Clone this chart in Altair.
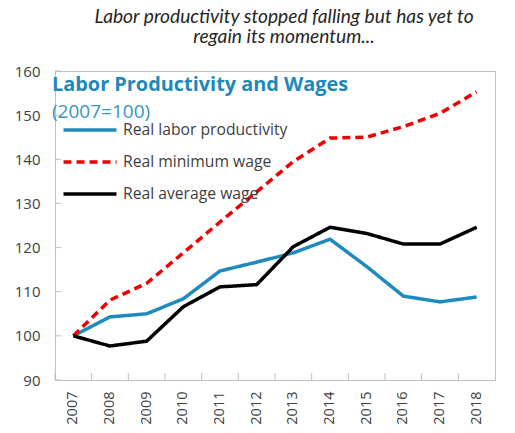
import altair as alt
import pandas as pd

years = [2007, 2008, 2009, 2010, 2011, 2012, 2013, 2014, 2015, 2016, 2017, 2018]
productivity = [100, 104.3, 105.0, 108.4, 114.7, 116.7, 118.8, 121.9, 115.7, 109.0, 107.7, 108.8]
min_wage = [100, 108.1, 111.9, 118.8, 125.8, 132.6, 139.5, 144.8, 145.0, 147.4, 150.4, 155.3]
avg_wage = [100, 97.7, 98.8, 106.6, 111.1, 111.6, 120.2, 124.6, 123.2, 120.8, 120.8, 124.6]

series_names = ["Real labor productivity", "Real minimum wage", "Real average wage"]
series_colors = ["#1f8bbd", "#ee0000", "#000000"]
series_dashes = [[1, 0], [8, 5], [1, 0]]
y_ticks = [90, 100, 110, 120, 130, 140, 150, 160]

title_lines = ["Labor productivity stopped falling but has yet to", "regain its momentum..."]
inner_title = "Labor Productivity and Wages"
inner_subtitle = "(2007=100)"

rows = []
for name, vals in zip(series_names, [productivity, min_wage, avg_wage]):
    for yr, v in zip(years, vals):
        rows.append({"year": yr, "value": v, "series": name})
df = pd.DataFrame(rows)

W, H = 440, 309
AX = "#bfbfbf"
LABEL = "#404040"
FONT = "Open Sans"

xscale = alt.Scale(type="band", paddingInner=0, paddingOuter=0)
yscale = alt.Scale(domain=[90, 160], nice=False, zero=False)

legend = alt.Legend(
    title=None, orient="none", legendX=20, legendY=44,
    symbolType="M-2,0H2", symbolSize=702, symbolStrokeWidth=3.5,
    labelFont=FONT, labelFontSize=15.7, labelColor=LABEL, labelOffset=18, labelLimit=400,
    rowPadding=9, padding=0,
)

lines = alt.Chart(df).mark_line(strokeWidth=3.5).encode(
    x=alt.X("year:O", scale=xscale, bandPosition=0.5, title=None,
            axis=alt.Axis(labelAngle=-90, ticks=False, labelPadding=11, labelFontSize=14.5,
                          domainColor=AX)),
    y=alt.Y("value:Q", scale=yscale, title=None,
            axis=alt.Axis(values=y_ticks, ticks=False, grid=False, labelPadding=15, domainColor=AX)),
    color=alt.Color("series:N", scale=alt.Scale(domain=series_names, range=series_colors), legend=legend),
    strokeDash=alt.StrokeDash("series:N", scale=alt.Scale(domain=series_names, range=series_dashes), legend=legend),
)

ytick_layer = alt.Chart(pd.DataFrame({"value": y_ticks})).mark_rule(color=AX, strokeWidth=1).encode(
    y=alt.Y("value:Q"), x=alt.value(0), x2=alt.value(6)
)
xtick_layer = alt.Chart(pd.DataFrame({"year": years})).mark_rule(color=AX, strokeWidth=1).encode(
    x=alt.X("year:O", bandPosition=0), y=alt.value(H), y2=alt.value(H - 7)
)

one = pd.DataFrame({"k": [0]})
title_layer = alt.Chart(one).mark_text(
    font="Lato", fontStyle="italic", fontSize=19.2, color="#262626", align="center",
    baseline="alphabetic", lineHeight=19.5,
).encode(text=alt.value(title_lines), x=alt.value(229), y=alt.value(-48))

inner_title_layer = alt.Chart(one).mark_text(
    font=FONT, fontWeight="bold", fontSize=19.9, color="#1f88ba", align="left", baseline="alphabetic",
).encode(text=alt.value(inner_title), x=alt.value(-3), y=alt.value(20))

inner_sub_layer = alt.Chart(one).mark_text(
    font=FONT, fontSize=19, color="#3a93c4", align="left", baseline="alphabetic",
).encode(text=alt.value(inner_subtitle), x=alt.value(-3), y=alt.value(47))

chart = alt.layer(
    ytick_layer, xtick_layer, lines, title_layer, inner_title_layer, inner_sub_layer
).properties(
    width=W, height=H, autosize=alt.AutoSizeParams(type="none"),
    padding={"left": 47, "top": 63, "right": 10, "bottom": 44},
).configure_view(stroke=AX, strokeWidth=1).configure_axis(
    labelFont=FONT, labelFontSize=15, labelColor=LABEL,
)

chart.save("out.html", embed_options={"renderer": "svg", "actions": False})
